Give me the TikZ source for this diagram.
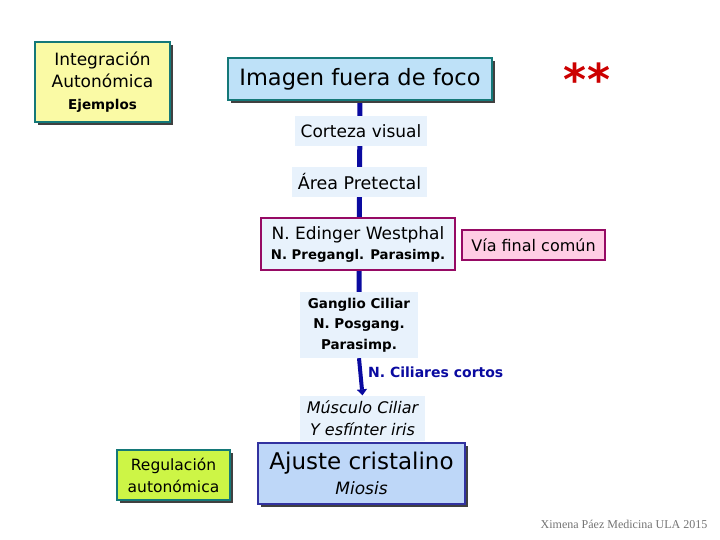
\documentclass[tikz,border=0pt]{standalone}
\usepackage{fontspec}
\setmainfont{DejaVu Sans}
\newfontfamily\footfont{Liberation Serif}
\usetikzlibrary{arrows.meta,shadows,backgrounds}

\definecolor{paleyellow}{RGB}{250,250,165}
\definecolor{tealborder}{RGB}{20,120,120}
\definecolor{skyfill}{RGB}{190,225,248}
\definecolor{icefill}{RGB}{232,242,252}
\definecolor{maroonborder}{RGB}{150,10,100}
\definecolor{pinkfill}{RGB}{255,205,228}
\definecolor{limefill}{RGB}{205,245,70}
\definecolor{navyborder}{RGB}{50,50,160}
\definecolor{ajustefill}{RGB}{190,215,248}
\definecolor{pathblue}{RGB}{10,10,160}

\tikzset{
  box/.style={inner sep=0pt, align=center},
  shadowbox/.style={box, draw, line width=2pt,
    drop shadow={shadow xshift=3pt, shadow yshift=-3pt, fill=black!75, opacity=1}},
  plainbox/.style={box, fill=icefill},
  pinkbox/.style={box, draw=maroonborder, line width=2pt},
}

\begin{document}
\begin{tikzpicture}[x=1pt, y=-1pt]

    \useasboundingbox (0,0) rectangle (720,540);

    % recuadros de la izquierda
    \node[shadowbox, draw=tealborder, fill=paleyellow, minimum width=135, minimum height=80,
      font=\fontsize{17}{22}\selectfont]
      (integ) at (102.5,82) {Integración\\ Autonómica\\
      \fontsize{13.5}{22}\selectfont\bfseries Ejemplos};
    \node[shadowbox, draw=tealborder, fill=limefill, minimum width=113, minimum height=50,
      font=\fontsize{15.5}{22}\selectfont]
      (regul) at (173.5,475) {Regulación\\ autonómica};

    % cadena central
    \node[shadowbox, draw=tealborder, fill=skyfill, minimum width=264, minimum height=42,
      font=\fontsize{22.5}{26}\selectfont]
      (imagen) at (360,79) {Imagen fuera de foco};
    \node[plainbox, minimum width=132, minimum height=30, font=\fontsize{17}{20}\selectfont]
      (corteza) at (361,131) {Corteza visual};
    \node[plainbox, minimum width=135, minimum height=30, font=\fontsize{17.5}{20}\selectfont]
      (pretectal) at (359.5,182) {Área Pretectal};
    \node[pinkbox, fill=icefill, minimum width=194, minimum height=52,
      font=\fontsize{17}{20}\selectfont]
      (edinger) at (358,244) {N. Edinger Westphal\\
      \fontsize{13.3}{20}\selectfont\bfseries N. Pregangl. Parasimp.};
    \node[pinkbox, fill=pinkfill, minimum width=143, minimum height=30,
      font=\fontsize{16}{20}\selectfont]
      (viafinal) at (533.5,245) {Vía final común};
    \node[plainbox, minimum width=118, minimum height=66,
      font=\fontsize{13.5}{20.5}\selectfont\bfseries]
      (ganglio) at (359,325) {Ganglio Ciliar\\ N. Posgang.\\ Parasimp.};
    \node[plainbox, minimum width=125, minimum height=45,
      font=\fontsize{16}{22}\selectfont\itshape]
      (musculo) at (362.5,418) {Músculo Ciliar\\ Y esfínter iris};
    \node[shadowbox, draw=navyborder, fill=ajustefill, minimum width=207, minimum height=61,
      font=\fontsize{23}{25}\selectfont]
      (ajuste) at (361.5,473) {Ajuste cristalino\\
      \fontsize{17}{25}\selectfont\itshape Miosis};

    % etiquetas sueltas
    \node[anchor=west, inner sep=0pt, text=pathblue, font=\fontsize{14}{16}\selectfont\bfseries]
      (ciliares) at (368,372) {N. Ciliares cortos};
    \node[text=red!80!black, font=\fontsize{44}{44}\selectfont\bfseries]
      (estrellas) at (587,79) {**};
    \node[text=black!55, font=\footfont\fontsize{12}{14}\selectfont]
      (firma) at (624,524) {Ximena Páez Medicina ULA 2015};

    % vía nerviosa (detrás de los recuadros)
    \begin{pgfonlayer}{background}
      \draw[pathblue, line width=5pt] (imagen.south) -- (ganglio.north);
    \end{pgfonlayer}
    \draw[pathblue, line width=4pt, -{Triangle[length=6pt, width=10pt]}]
      (ganglio.south) -- (musculo.north);

\end{tikzpicture}
\end{document}
